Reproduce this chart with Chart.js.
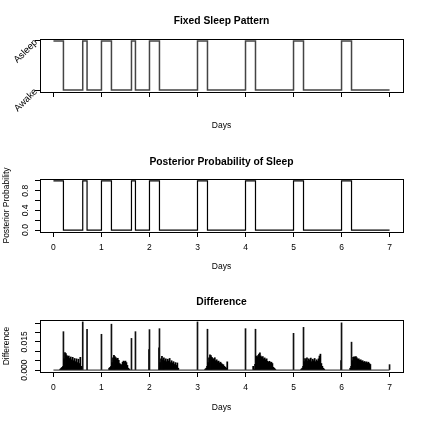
<!DOCTYPE html>
<html>
<head>
<meta charset="utf-8">
<script src="https://cdn.jsdelivr.net/npm/chart.js@4.4.1/dist/chart.umd.min.js"></script>
<style>
  body { margin: 0; background: #fff; }
  #wrap { position: relative; width: 423px; height: 422px; background: #fff; }
  canvas { position: absolute; left: 0; }
</style>
</head>
<body>
<div id="wrap">
  <canvas id="sleepChart" width="423" height="140" style="top:0px"></canvas>
  <canvas id="probChart" width="423" height="140" style="top:140px"></canvas>
  <canvas id="diffChart" width="423" height="142" style="top:280px"></canvas>
</div>
<script>
// days on the x axis
const tickDays = [0, 1, 2, 3, 4, 5, 6, 7];

// sleep pattern: state holds from each day value until the next one (1 = asleep)
const stateDays = [0, 0.208, 0.61, 0.7, 1.0, 1.208, 1.625, 1.708, 2.0, 2.208, 3.0, 3.208, 4.0, 4.208, 5.0, 5.208, 6.0, 6.208, 7.0];
const sleepState = [1, 0, 1, 0, 1, 0, 1, 0, 1, 0, 1, 0, 1, 0, 1, 0, 1, 0, 0];
const postProb = [1, 0, 1, 0, 1, 0, 1, 0, 1, 0, 1, 0, 1, 0, 1, 0, 1, 0, 0];
const stateTicks = [0, 1];
const stateLabels = ['Awake', 'Asleep'];

const probTicks = [0, 0.2, 0.4, 0.6, 0.8, 1.0];
const probLabels = ['0.0', '', '0.4', '', '0.8', ''];

const diffTicks = [0, 0.005, 0.01, 0.015, 0.02, 0.025];
const diffLabels = ['0.000', '', '', '0.015', '', ''];

// tall single lines in the difference plot
const spikeDays = [0.208, 0.61, 0.7, 1.0, 1.208, 1.625, 1.708, 1.99, 2.0, 2.198, 2.208, 3.0, 3.208, 4.0, 4.208, 5.0, 5.208, 5.99, 6.0, 6.208, 7.0];
const spikeValues = [0.0205, 0.0257, 0.0218, 0.0191, 0.0245, 0.0169, 0.0205, 0.011, 0.0216, 0.0119, 0.0221, 0.0257, 0.0218, 0.0221, 0.0218, 0.0196, 0.0228, 0.005, 0.0252, 0.0149, 0.0029];

// dense clusters after each main sleep, sampled every 0.02 days
const clusterStep = 0.02;
const clusterStarts = [0.14, 1.16, 2.22, 3.16, 4.16, 5.16, 6.18];
const clusterValues = [
  [0.0005, 0.001, 0.0015, 0.002, 0.006, 0.0094, 0.0088, 0.0078, 0.0072, 0.0075, 0.0062, 0.007, 0.0055, 0.0068, 0.005, 0.0062, 0.0045, 0.006, 0.004, 0.0058, 0.0035, 0.0068, 0.002],
  [0.001, 0.0015, 0.002, 0.004, 0.0065, 0.0079, 0.0072, 0.0066, 0.006, 0.0063, 0.0052, 0.0035, 0.003, 0.0028, 0.0042, 0.0048, 0.0045, 0.0048, 0.004, 0.0025, 0.001, 0.0005],
  [0.004, 0.006, 0.0073, 0.0055, 0.0065, 0.005, 0.006, 0.0045, 0.0058, 0.0048, 0.0062, 0.004, 0.005, 0.0038, 0.0045, 0.003, 0.004, 0.0025, 0.0038, 0.001],
  [0.0005, 0.001, 0.002, 0.004, 0.0065, 0.0082, 0.0078, 0.0068, 0.0062, 0.0058, 0.0066, 0.005, 0.0055, 0.0045, 0.0048, 0.0038, 0.0042, 0.0035, 0.003, 0.0028, 0.002, 0.0015, 0.001, 0.0044],
  [0.002, 0.0005, 0.003, 0.0075, 0.007, 0.0078, 0.0085, 0.0092, 0.0075, 0.0068, 0.0072, 0.006, 0.0065, 0.0055, 0.006, 0.0047, 0.0042, 0.0047, 0.004, 0.0042, 0.0035, 0.0015, 0.001, 0.0005],
  [0.0005, 0.001, 0.002, 0.0045, 0.0062, 0.0055, 0.0066, 0.0048, 0.006, 0.0052, 0.0064, 0.0045, 0.0058, 0.005, 0.0062, 0.0045, 0.0055, 0.0048, 0.006, 0.0075, 0.0085, 0.0035, 0.002, 0.001, 0.0005],
  [0.001, 0.002, 0.005, 0.0068, 0.0071, 0.007, 0.0072, 0.0065, 0.0058, 0.006, 0.0052, 0.0055, 0.0048, 0.005, 0.0042, 0.0046, 0.004, 0.0044, 0.0038, 0.0042, 0.0035, 0.003]
];

// zero floor of the difference series
const baseDays = [0, 7];
const baseValues = [0, 0];

Chart.defaults.font.family = '"Liberation Sans", Arial, Helvetica, sans-serif';
Chart.defaults.color = '#000';
Chart.defaults.animation = false;

const FONT_AXIS = 8.5;

// R style box round the plot region
const boxPlugin = {
  id: 'rbox',
  afterDatasetsDraw(chart) {
    const a = chart.chartArea;
    const ctx = chart.ctx;
    ctx.save();
    ctx.strokeStyle = '#000';
    ctx.lineWidth = 1;
    ctx.strokeRect(Math.round(a.left) + 0.5, Math.round(a.top) + 0.5,
      Math.round(a.right - a.left), Math.round(a.bottom - a.top));
    ctx.restore();
  }
};

function makeOptions(p) {
  const tickGrid = { drawOnChartArea: false, drawTicks: true, tickLength: 5, color: '#000', offset: false };
  return {
    responsive: false,
    animation: false,
    layout: { padding: { left: 0, right: 20, top: 0, bottom: 0 } },
    plugins: { legend: { display: false }, tooltip: { enabled: false }, title: { display: false } },
    scales: {
      x: {
        type: 'linear', position: 'bottom', min: -0.28, max: 7.28, offset: false,
        afterBuildTicks: s => { s.ticks = tickDays.map(v => ({ value: v })); },
        afterFit: s => { s.height = p.bottomH; },
        grid: tickGrid, border: { display: false },
        ticks: {
          autoSkip: false, maxRotation: 0, padding: 6, font: { size: FONT_AXIS },
          callback: v => (p.xLabels ? String(v) : '')
        },
        title: { display: true, text: 'Days', font: { size: FONT_AXIS }, padding: { top: 0, bottom: p.daysPad } }
      },
      xTop: {
        type: 'linear', axis: 'x', position: 'top', min: -0.28, max: 7.28, offset: false,
        afterFit: s => { s.height = p.topH; },
        grid: { display: false, offset: false }, border: { display: false },
        ticks: { display: false },
        title: { display: true, text: p.title, font: { size: 10.3, weight: 'bold' }, padding: { top: p.titlePad, bottom: 0 } }
      },
      y: {
        type: 'linear', min: p.yMin, max: p.yMax,
        afterBuildTicks: s => { s.ticks = p.yTicks.map(v => ({ value: v })); },
        afterFit: s => { s.width = 40; },
        grid: tickGrid, border: { display: false },
        ticks: {
          autoSkip: false, minRotation: p.yRot, maxRotation: p.yRot, crossAlign: p.yAlign,
          padding: p.yPad, font: { size: p.yFont || FONT_AXIS },
          callback: (v, i) => p.yLabels[i]
        },
        title: { display: !!p.yTitle, text: p.yTitle || '', font: { size: FONT_AXIS }, padding: { top: 1.5, bottom: 0 } }
      }
    }
  };
}

function stepPoints(values) {
  return stateDays.map((d, i) => ({ x: d, y: values[i] }));
}

new Chart(document.getElementById('sleepChart'), {
  type: 'line',
  data: {
    datasets: [{
      xAxisID: 'x', yAxisID: 'y',
      data: stepPoints(sleepState), stepped: true, borderColor: '#444', borderWidth: 1.5,
      pointRadius: 0, fill: false
    }]
  },
  options: makeOptions({
    title: 'Fixed Sleep Pattern', topH: 39, titlePad: 14.8, bottomH: 48, daysPad: 9,
    xLabels: false, yMin: -0.04, yMax: 1.04, yTicks: stateTicks, yLabels: stateLabels,
    yRot: 45, yAlign: 'near', yPad: -1, yFont: 9.5, yTitle: null
  }),
  plugins: [boxPlugin]
});

new Chart(document.getElementById('probChart'), {
  type: 'line',
  data: {
    datasets: [{
      xAxisID: 'x', yAxisID: 'y',
      data: stepPoints(postProb), stepped: true, borderColor: '#000', borderWidth: 1.2,
      pointRadius: 0, fill: false
    }]
  },
  options: makeOptions({
    title: 'Posterior Probability of Sleep', topH: 39, titlePad: 16, bottomH: 48, daysPad: 8.6,
    xLabels: true, yMin: -0.04, yMax: 1.04, yTicks: probTicks, yLabels: probLabels,
    yRot: 90, yAlign: 'center', yPad: 3, yTitle: 'Posterior Probability'
  }),
  plugins: [boxPlugin]
});

const clusterPoints = [];
clusterStarts.forEach((start, c) => {
  clusterValues[c].forEach((v, i) => {
    clusterPoints.push({ x: start + i * clusterStep, y: v });
  });
});
const spikePoints = spikeDays.map((d, i) => ({ x: d, y: spikeValues[i] }));
const basePoints = baseDays.map((d, i) => ({ x: d, y: baseValues[i] }));

new Chart(document.getElementById('diffChart'), {
  type: 'bar',
  data: {
    datasets: [
      { type: 'line', xAxisID: 'x', yAxisID: 'y', data: basePoints, borderColor: '#222', borderWidth: 1, pointRadius: 0, fill: false },
      { xAxisID: 'x', yAxisID: 'y', data: clusterPoints, backgroundColor: '#000', barThickness: 1.1, grouped: false, borderWidth: 0 },
      { xAxisID: 'x', yAxisID: 'y', data: spikePoints, backgroundColor: '#111', barThickness: 1, grouped: false, borderWidth: 0 }
    ]
  },
  options: makeOptions({
    title: 'Difference', topH: 40, titlePad: 16.3, bottomH: 50, daysPad: 9.6,
    xLabels: true, yMin: -0.00103, yMax: 0.02673, yTicks: diffTicks, yLabels: diffLabels,
    yRot: 90, yAlign: 'center', yPad: 0, yTitle: 'Difference'
  }),
  plugins: [boxPlugin]
});
</script>
</body>
</html>
